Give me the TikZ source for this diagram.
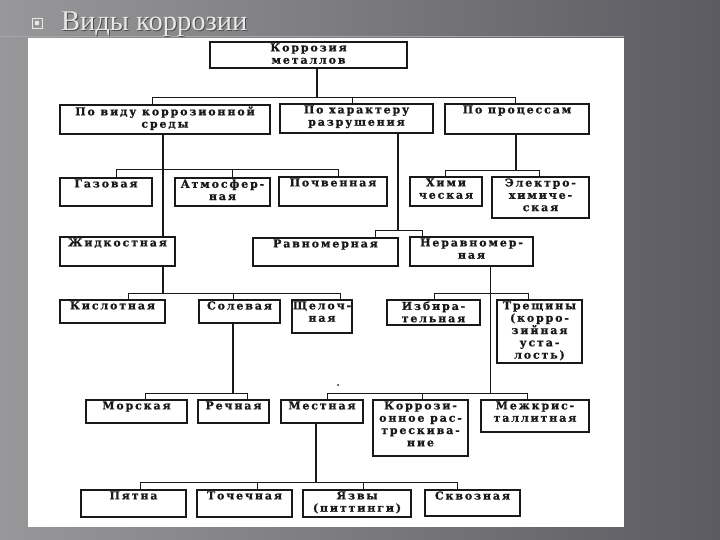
\documentclass[tikz,border=0pt]{standalone}
\usepackage{fontspec}
\setmainfont{Liberation Serif}
\newfontfamily\boxfont[LetterSpace=17, FakeBold=0.8]{DejaVu Serif}
\definecolor{bgL}{RGB}{152,152,154}
\definecolor{bgR}{RGB}{92,91,97}
\definecolor{titlec}{RGB}{232,232,232}
\definecolor{inkc}{RGB}{25,25,25}
\newcommand\BX[6]{%
  \node[boxst, minimum width={(#4-#2)*1pt}, minimum height={(#5-#3)*1pt}, anchor=north west] (#1) at (#2,#3) {};
  \node[lblst, anchor=north] (#1t) at (#1.north) {#6};}
\newcommand\TK[2]{\draw[conn] (#1) -- (#1 |- #2.north);}
\begin{document}
\begin{tikzpicture}[x=1pt,y=-1pt,
  boxst/.style={draw=inkc, line width=1.1pt, inner sep=0pt, outer sep=0pt},
  lblst/.style={inner sep=1.2pt, align=center, text=inkc,
     font=\boxfont\bfseries\fontsize{11}{12.3}\selectfont},
  conn/.style={draw=inkc, line width=0.8pt},
  main/.style={draw=inkc, line width=1.3pt}]
\useasboundingbox (0,0) rectangle (720,540);
\shade[left color=bgL, right color=bgR] (0,0) rectangle (720,540);
\fill[white] (28,38) rectangle (624,527);
\draw[gray!70, line width=0.6pt] (0,36.5) -- (624,36.5);
% title
\node[draw=titlec, line width=0.8pt, minimum size=10pt, inner sep=0pt] (bul) at (37,23) {};
\node[fill=titlec, minimum size=4pt, inner sep=0pt] (bulin) at (37,23) {};
\node[anchor=base west, inner sep=0pt, text=black!70, font=\fontsize{28.5}{30}\selectfont] (titleS) at (62,32) {Виды коррозии};
\node[anchor=base west, inner sep=0pt, text=titlec, font=\fontsize{28.5}{30}\selectfont] (title) at (61,31) {Виды коррозии};
% boxes
\BX{kor}{210}{42}{407}{68}{\raisebox{-3pt}{Коррозия}\\\raisebox{-3pt}{металлов}}
\BX{vid}{60}{105}{270}{134}{По виду коррозионной\\среды}
\BX{har}{280}{104}{433}{133}{По характеру\\разрушения}
\BX{pro}{445}{104}{589}{134}{По процессам}
\BX{gaz}{60}{178}{152}{206}{Газовая}
\BX{atm}{175}{178}{270}{206}{Атмосфер-\\ная}
\BX{poc}{279}{177}{387}{206}{Почвенная}
\BX{him}{410}{177}{482}{206}{Хими\\ческая}
\BX{ele}{492}{177}{589}{218}{Электро-\\химиче-\\ская}
\BX{zhi}{60}{237}{175}{266}{Жидкостная}
\BX{rav}{253}{238}{398}{266}{Равномерная}
\BX{ner}{410}{237}{533}{266}{Неравномер-\\ная}
\BX{kis}{60}{300}{165}{323}{Кислотная}
\BX{sol}{199}{300}{280}{323}{Солевая}
\BX{shc}{292}{300}{352}{333}{Щелоч-\\ная}
\BX{izb}{387}{300}{480}{325}{Избира-\\тельная}
\BX{tre}{497}{300}{582}{363}{Трещины\\(корро-\\зийная\\уста-\\лость)}
\BX{mor}{86}{400}{187}{423}{Морская}
\BX{rec}{198}{400}{269}{423}{Речная}
\BX{mes}{281}{400}{363}{423}{Местная}
\BX{krr}{373}{400}{468}{456}{Коррози-\\онное рас-\\трескива-\\ние}
\BX{mez}{481}{400}{589}{432}{Межкрис-\\таллитная}
\BX{pya}{81}{490}{186}{517}{Пятна}
\BX{toc}{197}{490}{292}{517}{Точечная}
\BX{yaz}{303}{490}{411}{517}{Язвы\\(питтинги)}
\BX{skv}{425}{490}{520}{516}{Сквозная}
% connectors
\coordinate (a0) at (317,97);
\draw[main] (kor.south -| a0) -- (a0);
\coordinate (a1) at (152,97); \coordinate (a2) at (352,97); \coordinate (a3) at (515,97);
\draw[conn] (a1) -- (a3);
\TK{a1}{vid} \TK{a2}{har} \TK{a3}{pro}
\coordinate (b0) at (163,169);
\draw[main] (vid.south -| b0) -- (zhi.north -| b0);
\coordinate (b1) at (116,169); \coordinate (b2) at (232,169); \coordinate (b3) at (338,169);
\draw[conn] (b1) -- (b3);
\TK{b1}{gaz} \TK{b2}{atm} \TK{b3}{poc}
\coordinate (c0) at (163,293);
\draw[main] (zhi.south -| c0) -- (c0);
\coordinate (c1) at (128,293); \coordinate (c2) at (233,293); \coordinate (c3) at (340,293);
\draw[conn] (c1) -- (c3);
\TK{c1}{kis} \TK{c2}{sol} \TK{c3}{shc}
\coordinate (d0) at (516,170);
\draw[main] (pro.south -| d0) -- (d0);
\coordinate (d1) at (445,170); \coordinate (d2) at (539,170);
\draw[conn] (d1) -- (d2);
\TK{d1}{him} \TK{d2}{ele}
\coordinate (e0) at (398,230);
\draw[main] (har.south -| e0) -- (e0);
\coordinate (e1) at (375,230); \coordinate (e2) at (422,230);
\draw[conn] (e1) -- (e2);
\TK{e1}{rav} \TK{e2}{ner}
\coordinate (f0) at (490,393);
\draw[conn, line width=1pt] (ner.south -| f0) -- (f0);
\coordinate (f1) at (434,293); \coordinate (f2) at (528,293);
\draw[conn] (f1) -- (f2);
\TK{f1}{izb} \TK{f2}{tre}
\coordinate (g1) at (327,393); \coordinate (g2) at (422,393); \coordinate (g3) at (527,393);
\draw[conn] (g1) -- (g3);
\TK{g1}{mes} \TK{g2}{krr} \TK{g3}{mez}
\coordinate (h0) at (233,393);
\draw[main] (sol.south -| h0) -- (h0);
\coordinate (h1) at (145,393); \coordinate (h2) at (247,393);
\draw[conn] (h1) -- (h2);
\TK{h1}{mor} \TK{h2}{rec}
\coordinate (i0) at (316,482);
\draw[main] (mes.south -| i0) -- (i0);
\coordinate (i1) at (140,482); \coordinate (i2) at (257,482); \coordinate (i3) at (363,482); \coordinate (i4) at (457,482);
\draw[conn] (i1) -- (i4);
\TK{i1}{pya} \TK{i2}{toc} \TK{i3}{yaz} \TK{i4}{skv}
\node[circle, fill=inkc, inner sep=0pt, minimum size=2pt] (dot) at (338,385) {};
\end{tikzpicture}
\end{document}
